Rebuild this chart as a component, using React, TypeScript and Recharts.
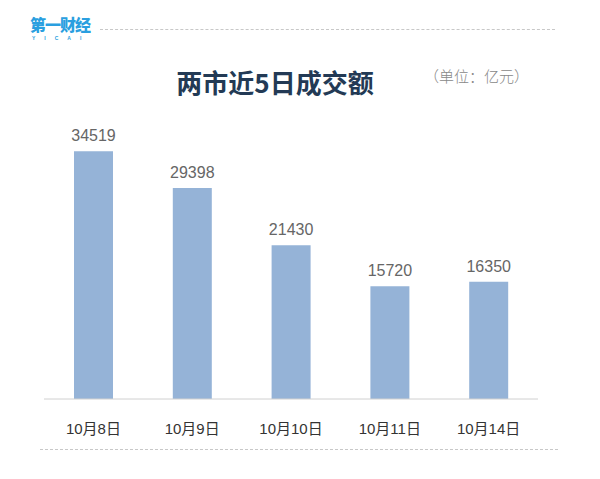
import React from "react";
import { BarChart, Bar, XAxis, YAxis, LabelList } from "recharts";

const categories = ["10月8日", "10月9日", "10月10日", "10月11日", "10月14日"];
const values = [34519, 29398, 21430, 15720, 16350];
const data = categories.map((c, i) => ({ name: c, value: values[i] }));

const FONT = "'Liberation Sans', Arial, 'Noto Sans CJK SC', sans-serif";

const Tick = (props: any) => {
  const { x, y, payload } = props;
  return (
    <text x={x} y={y + 27} textAnchor="middle" fontSize={15} fill="#333" fontFamily={FONT}>
      {payload.value}
    </text>
  );
};

export default function App() {
  return (
    <div style={{ position: "absolute", left: 0, top: 0, width: 600, height: 479, background: "#fff", overflow: "hidden" }}>
      <div style={{ position: "absolute", left: 30, top: 15, color: "#2a9fe0", fontFamily: "'Noto Sans CJK SC', sans-serif", fontWeight: 900, fontSize: 16, lineHeight: "18px", letterSpacing: -1 }}>
        第一财经
      </div>
      <div style={{ position: "absolute", left: 32, top: 35, color: "#2a9fe0", fontFamily: FONT, fontSize: 5, lineHeight: "6px", letterSpacing: 9, fontWeight: 700 }}>
        YICAI
      </div>
      <div style={{ position: "absolute", left: 100, top: 29, width: 455, borderTop: "1px dashed #c8c8c8" }} />
      <div style={{ position: "absolute", left: 40, top: 449, width: 518, borderTop: "1px dashed #c8c8c8" }} />
      <div style={{ position: "absolute", left: 150, top: 64, width: 250, textAlign: "center", color: "#233a55", fontFamily: "'Noto Sans CJK SC', sans-serif", fontWeight: 700, fontSize: 26, lineHeight: "36px" }}>
        两市近5日成交额
      </div>
      <div style={{ position: "absolute", left: 424, top: 65, color: "#888", fontFamily: "'Noto Sans CJK SC', serif", fontWeight: 300, fontSize: 15, lineHeight: "22px" }}>
        （单位：亿元）
      </div>
      <div style={{ position: "absolute", left: 0, top: 0 }}>
        <BarChart width={600} height={479} data={data} margin={{ top: 112, right: 62, bottom: 50, left: 44 }}>
          <XAxis dataKey="name" height={30} tickLine={false} axisLine={{ stroke: "#d0d0d0" }} tick={<Tick />} interval={0} />
          <YAxis hide domain={[0, 40000]} />
          <Bar dataKey="value" fill="#95b3d7" barSize={39} isAnimationActive={false}>
            <LabelList dataKey="value" position="top" offset={10} fill="#666" fontSize={16} fontFamily={FONT} />
          </Bar>
        </BarChart>
      </div>
    </div>
  );
}
